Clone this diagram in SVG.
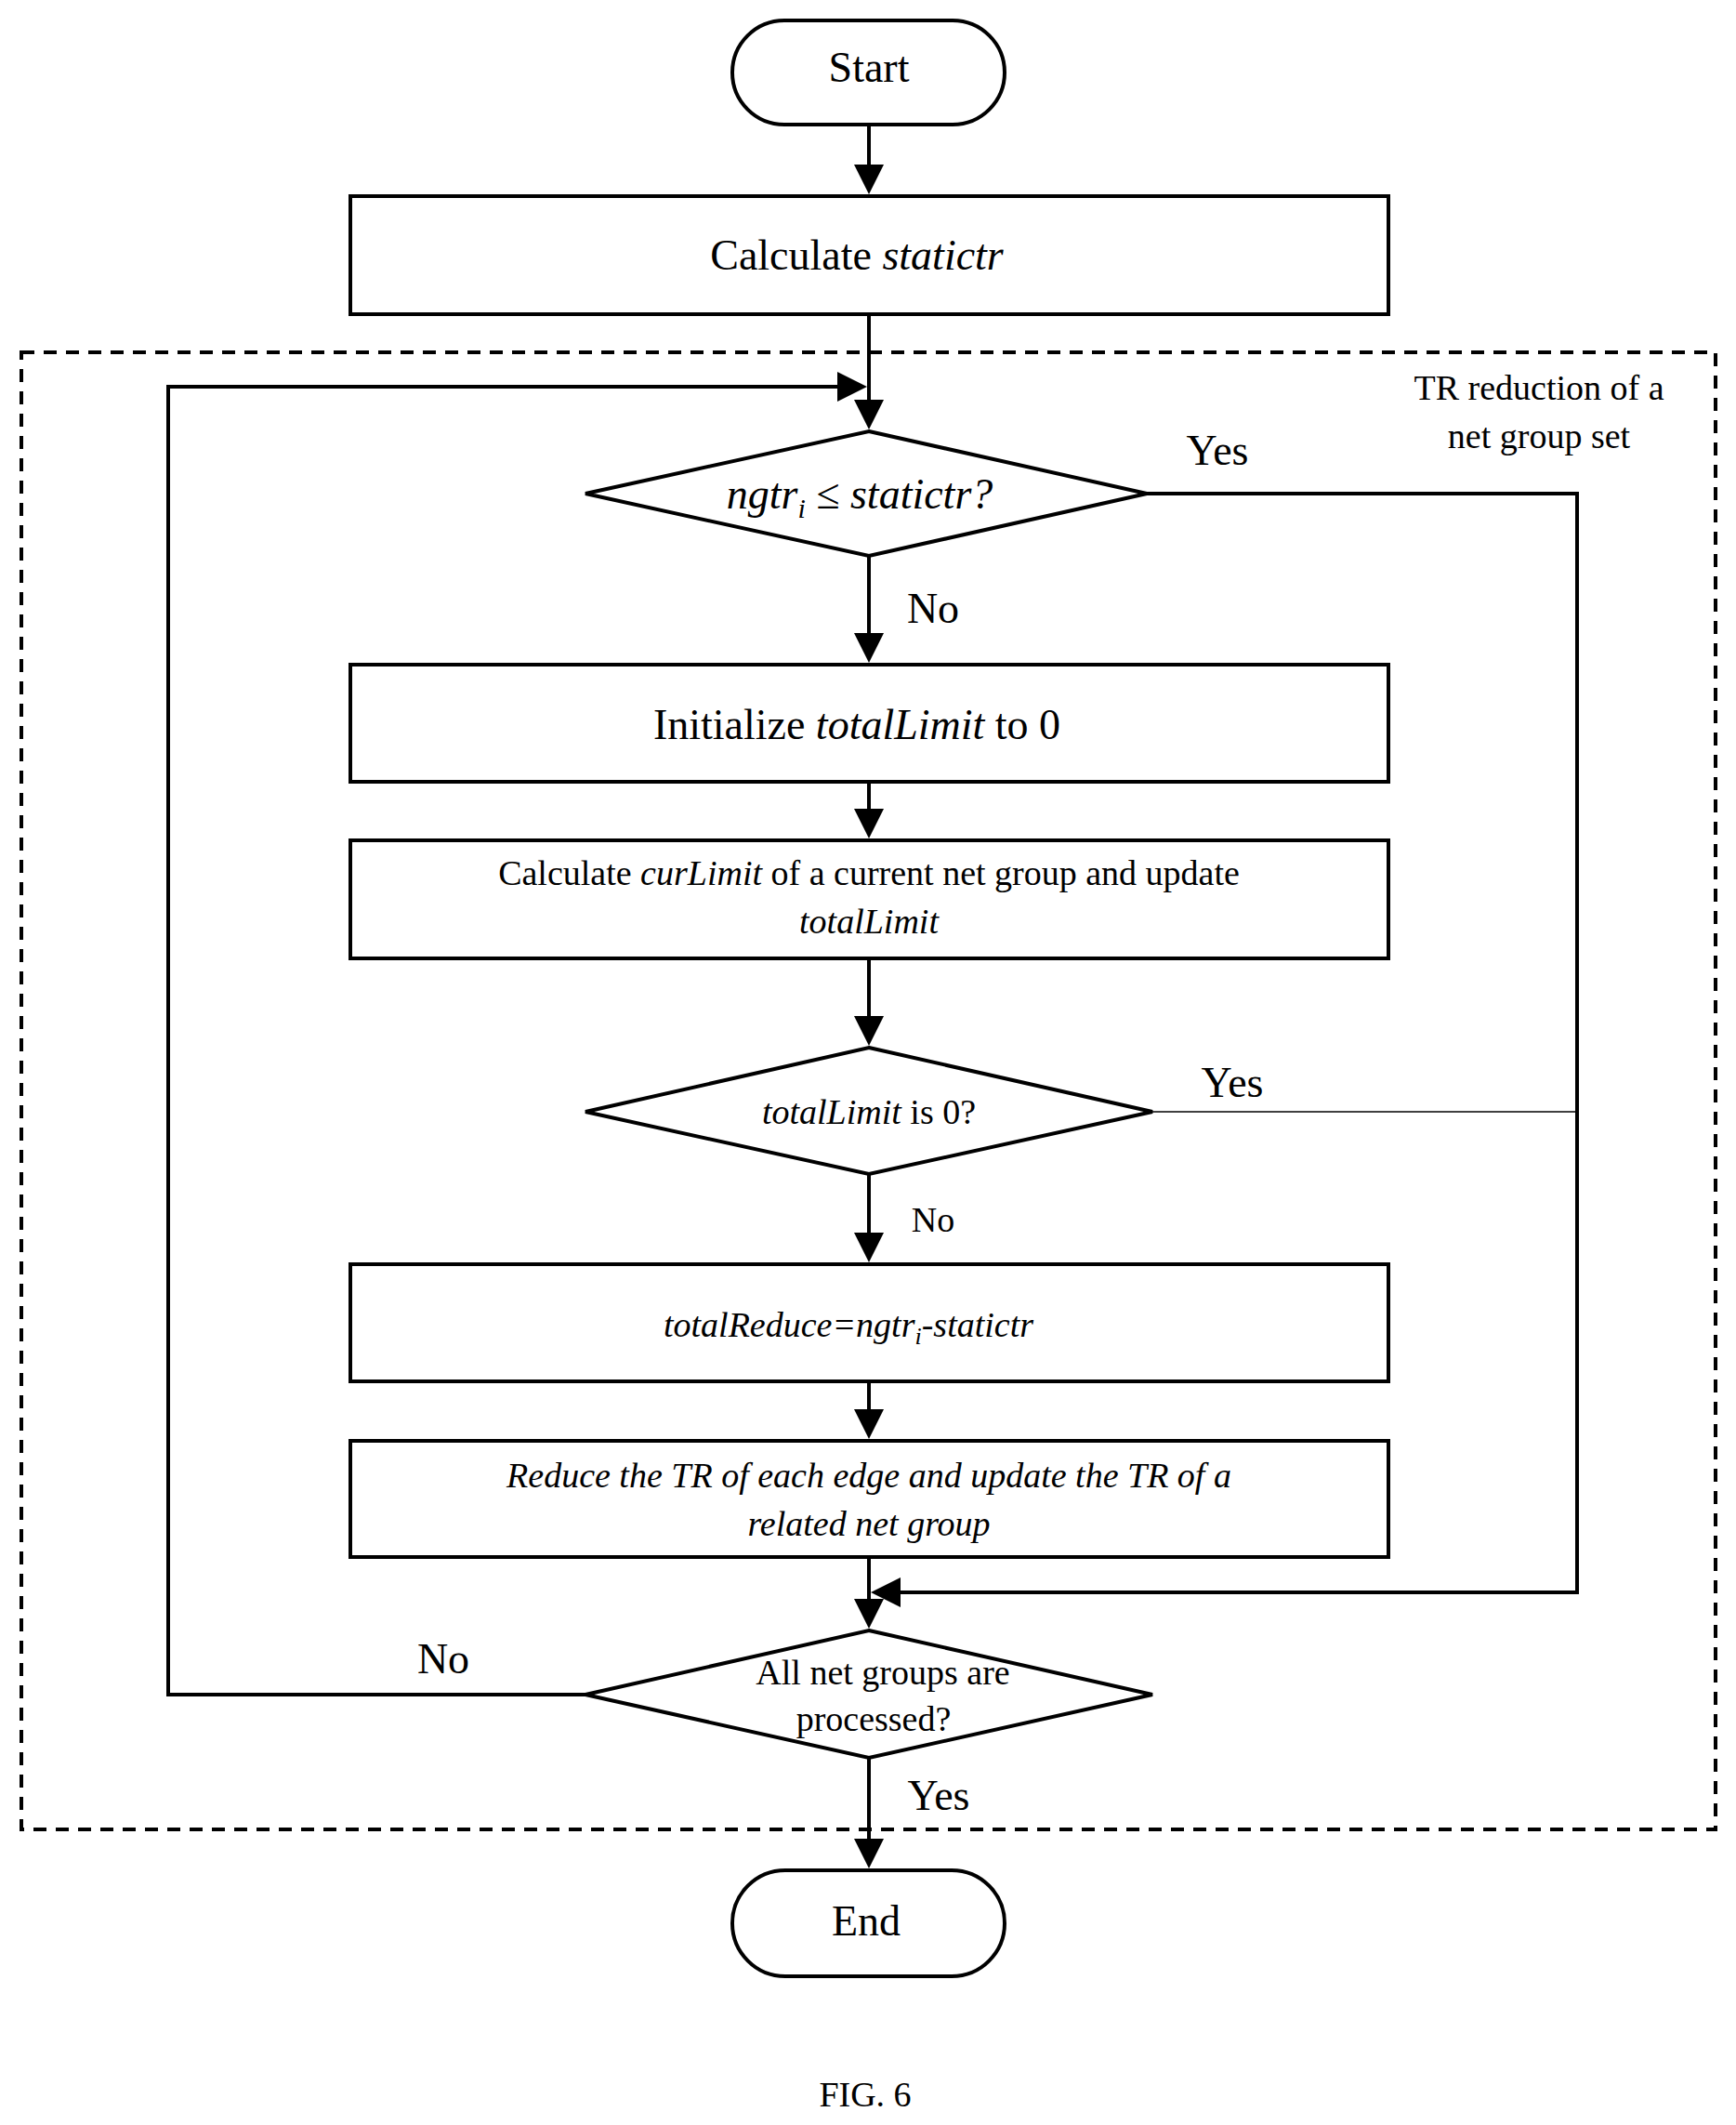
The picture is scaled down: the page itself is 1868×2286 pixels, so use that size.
<svg xmlns="http://www.w3.org/2000/svg" width="1868" height="2286" viewBox="0 0 1868 2286">
<style>
.s{fill:#fff;stroke:#000;stroke-width:4}
.l{fill:none;stroke:#000;stroke-width:4}
text{font-family:"Liberation Serif",serif;fill:#000;text-anchor:middle}
.b{font-size:46px}.m{font-size:38px}.i{font-style:italic}
</style>
<defs><marker id="a" markerWidth="8" markerHeight="8" refX="7" refY="4" orient="auto" markerUnits="strokeWidth"><path d="M0,0L8,4L0,8z" fill="#000"/></marker></defs>
<rect x="23" y="379" width="1823" height="1589" fill="none" stroke="#000" stroke-width="4" stroke-dasharray="14,10"/>
<text class="m" x="1656" y="430">TR reduction of a</text>
<text class="m" x="1656" y="482">net group set</text>
<g id="connectors">
<path class="l" d="M935,134V205" marker-end="url(#a)"/>
<path class="l" d="M935,338V458" marker-end="url(#a)"/>
<path class="l" d="M935,598V709" marker-end="url(#a)"/>
<path class="l" d="M935,841V898" marker-end="url(#a)"/>
<path class="l" d="M935,1031V1121" marker-end="url(#a)"/>
<path class="l" d="M935,1263V1354" marker-end="url(#a)"/>
<path class="l" d="M935,1486V1544" marker-end="url(#a)"/>
<path class="l" d="M935,1675V1748" marker-end="url(#a)"/>
<path class="l" d="M935,1891V2006" marker-end="url(#a)"/>
<path class="l" d="M1234,531H1697V1713H941" marker-end="url(#a)"/>
<path fill="none" stroke="#000" stroke-width="1.5" d="M1240,1196H1697"/>
<path class="l" d="M630,1823H181V416H929" marker-end="url(#a)"/>
<text class="b" x="1310" y="500">Yes</text>
<text class="b" x="1004" y="670">No</text>
<text class="b" x="1326" y="1180">Yes</text>
<text class="m" x="1004" y="1325">No</text>
<text class="b" x="477" y="1800">No</text>
<text class="b" x="1010" y="1947">Yes</text>
</g>
<g id="start"><rect class="s" x="788" y="22" width="293" height="112" rx="56"/><text class="b" x="935" y="88">Start</text></g>
<g id="calc"><rect class="s" x="377" y="211" width="1117" height="127"/><text class="b" x="922" y="290">Calculate <tspan class="i">statictr</tspan></text></g>
<g id="d1"><polygon class="s" points="935,464 1234,531 935,598 630,531"/><text class="b i" x="925" y="547">ngtr<tspan font-size="30" dy="10">i</tspan><tspan dy="-10"> ≤ statictr?</tspan></text></g>
<g id="init"><rect class="s" x="377" y="715" width="1117" height="126"/><text class="b" x="922" y="795">Initialize <tspan class="i">totalLimit</tspan> to 0</text></g>
<g id="cur"><rect class="s" x="377" y="904" width="1117" height="127"/><text class="m" x="935" y="952">Calculate <tspan class="i">curLimit</tspan> of a current net group and update</text><text class="m i" x="935" y="1004">totalLimit</text></g>
<g id="d2"><polygon class="s" points="935,1127 1240,1196 935,1263 630,1196"/><text class="m" x="935" y="1209"><tspan class="i">totalLimit</tspan> is 0?</text></g>
<g id="reduce"><rect class="s" x="377" y="1360" width="1117" height="126"/><text class="m i" x="913" y="1438" font-family="Liberation Sans,sans-serif">totalReduce=ngtr<tspan font-size="26" dy="8">i</tspan><tspan dy="-8">-statictr</tspan></text></g>
<g id="red2"><rect class="s" x="377" y="1550" width="1117" height="125"/><text class="m i" x="935" y="1600">Reduce the TR of each edge and update the TR of a</text><text class="m i" x="935" y="1652">related net group</text></g>
<g id="d3"><polygon class="s" points="935,1754 1240,1823 935,1891 630,1823"/><text class="m" x="950" y="1812">All net groups are</text><text class="m" x="940" y="1862">processed?</text></g>
<g id="end"><rect class="s" x="788" y="2012" width="293" height="114" rx="57"/><text class="b" x="932" y="2082">End</text></g>
<text class="m" x="931" y="2266">FIG. 6</text>
</svg>
